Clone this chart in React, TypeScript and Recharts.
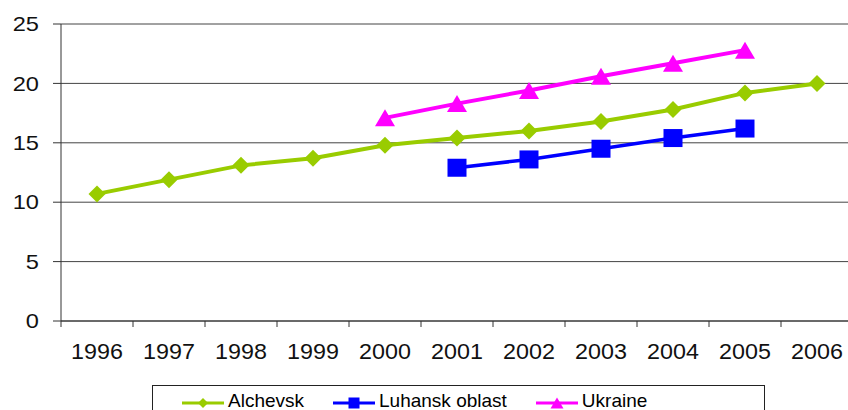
import { LineChart, Line, XAxis, YAxis, CartesianGrid, Legend } from 'recharts';

const years = [1996, 1997, 1998, 1999, 2000, 2001, 2002, 2003, 2004, 2005, 2006];
const alchevsk = [10.7, 11.9, 13.1, 13.7, 14.8, 15.4, 16.0, 16.8, 17.8, 19.2, 20.0];
const luhansk = [null, null, null, null, null, 12.9, 13.6, 14.5, 15.4, 16.2, null];
const ukraine = [null, null, null, null, 17.1, 18.3, 19.4, 20.6, 21.7, 22.8, null];
const yTicks = [0, 5, 10, 15, 20, 25];

const GREEN = '#99cc00';
const BLUE = '#0000ff';
const PINK = '#ff00ff';
const FONT = '"Liberation Sans", Arial, sans-serif';

const data = years.map((year, i) => ({
  year,
  alchevsk: alchevsk[i],
  luhansk: luhansk[i],
  ukraine: ukraine[i],
}));

// tick lines sit between the years, labels in the middle of each year
const edges = [years[0] - 0.5, ...years.map(y => y + 0.5)];
const xTicks = [...edges, ...years].sort((a, b) => a - b);

function XTick({ x, y, payload }: any) {
  if (!Number.isInteger(payload.value)) {
    return <line x1={x} y1={y} x2={x} y2={y + 6} stroke="#333" strokeWidth={1} />;
  }
  return (
    <text
      transform={`translate(${x},${y + 38}) scale(1.06,1)`}
      textAnchor="middle"
      fontSize={22}
      fill="#111"
      fontFamily={FONT}
    >
      {payload.value}
    </text>
  );
}

// the original labels look a little stretched sideways
function YTick({ x, y, payload }: any) {
  return (
    <text
      transform={`translate(${x},${y}) scale(1.18,1)`}
      dy="0.355em"
      textAnchor="end"
      fontSize={20}
      fill="#111"
      fontFamily={FONT}
    >
      {payload.value}
    </text>
  );
}

function Diamond({ cx, cy, fill, r = 8.5 }: any) {
  if (cx == null || cy == null) return <g />;
  return <polygon points={`${cx},${cy - r} ${cx + r},${cy} ${cx},${cy + r} ${cx - r},${cy}`} fill={fill} />;
}

function Square({ cx, cy, fill, w = 19, h = 18 }: any) {
  if (cx == null || cy == null) return <g />;
  return <rect x={cx - w / 2} y={cy - h / 2} width={w} height={h} fill={fill} />;
}

function Triangle({ cx, cy, fill, w = 20, h = 17 }: any) {
  if (cx == null || cy == null) return <g />;
  return (
    <polygon
      points={`${cx},${cy - h / 2} ${cx + w / 2},${cy + h / 2} ${cx - w / 2},${cy + h / 2}`}
      fill={fill}
    />
  );
}

const legendItems = [
  { name: 'Alchevsk', color: GREEN, Marker: Diamond, size: { r: 5 } },
  { name: 'Luhansk oblast', color: BLUE, Marker: Square, size: { w: 11, h: 11 } },
  { name: 'Ukraine', color: PINK, Marker: Triangle, size: { w: 13, h: 11 } },
];

function BoxLegend() {
  return (
    <div
      style={{
        width: 613,
        height: 50,
        boxSizing: 'border-box',
        border: '1px solid #222',
        background: '#fff',
        display: 'flex',
        alignItems: 'flex-start',
        paddingTop: 5,
        paddingLeft: 29,
        gap: 29,
        fontFamily: FONT,
        fontSize: 19,
        lineHeight: '19px',
        color: '#000',
      }}
    >
      {legendItems.map(({ name, color, Marker, size }) => (
        <div key={name} style={{ display: 'flex', alignItems: 'center' }}>
          <svg width={42} height={19} style={{ marginRight: 4 }}>
            <line x1={0} y1={12} x2={42} y2={12} stroke={color} strokeWidth={3} />
            <Marker cx={21} cy={12} fill={color} {...size} />
          </svg>
          <span>{name}</span>
        </div>
      ))}
    </div>
  );
}

export default function App() {
  return (
    <div style={{ position: 'absolute', left: 0, top: 0, width: 848, height: 410, overflow: 'hidden', background: '#fff' }}>
      <LineChart
        width={860}
        height={430}
        data={data}
        margin={{ top: 24, right: 7, bottom: 49, left: 0 }}
        style={{ fontFamily: FONT }}
      >
        <CartesianGrid vertical={false} stroke="#444" strokeWidth={1} />
        <XAxis
          dataKey="year"
          type="number"
          domain={[edges[0], edges[edges.length - 1]]}
          ticks={xTicks}
          interval={0}
          tickLine={false}
          tickSize={0}
          tickMargin={0}
          height={60}
          axisLine={{ stroke: '#333' }}
          tick={<XTick />}
        />
        <YAxis
          domain={[0, 25]}
          ticks={yTicks}
          interval={0}
          width={61}
          tickSize={8}
          tickMargin={14}
          axisLine={{ stroke: '#333' }}
          tickLine={{ stroke: '#333' }}
          tick={<YTick />}
        />
        <Legend
          layout="vertical"
          align="center"
          verticalAlign="middle"
          wrapperStyle={{ left: 152, top: 385, width: 613 }}
          content={() => <BoxLegend />}
        />
        <Line
          type="linear"
          dataKey="alchevsk"
          name="Alchevsk"
          stroke={GREEN}
          strokeWidth={4}
          dot={(p: any) => <Diamond key={`a-${p.index}`} cx={p.cx} cy={p.cy} fill={GREEN} />}
          activeDot={false}
          isAnimationActive={false}
        />
        <Line
          type="linear"
          dataKey="luhansk"
          name="Luhansk oblast"
          stroke={BLUE}
          strokeWidth={3.5}
          dot={(p: any) => <Square key={`l-${p.index}`} cx={p.cx} cy={p.cy} fill={BLUE} />}
          activeDot={false}
          isAnimationActive={false}
        />
        <Line
          type="linear"
          dataKey="ukraine"
          name="Ukraine"
          stroke={PINK}
          strokeWidth={4}
          dot={(p: any) => <Triangle key={`u-${p.index}`} cx={p.cx} cy={p.cy} fill={PINK} />}
          activeDot={false}
          isAnimationActive={false}
        />
      </LineChart>
    </div>
  );
}
